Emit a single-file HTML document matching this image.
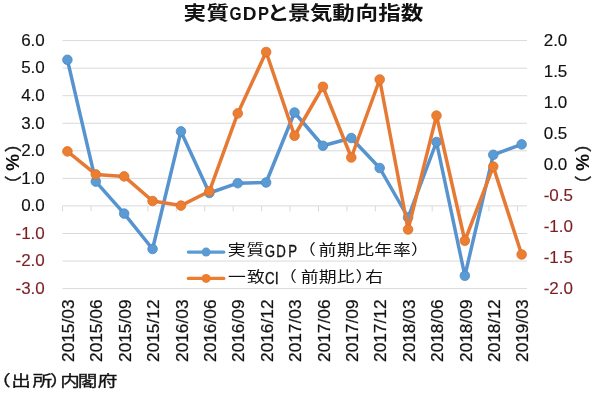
<!DOCTYPE html>
<html><head><meta charset="utf-8"><title>実質GDPと景気動向指数</title>
<style>
html,body{margin:0;padding:0;background:#fff;}
body{width:600px;height:400px;overflow:hidden;}
svg{display:block;will-change:transform;}
.ax{font-family:"Liberation Sans",sans-serif;font-size:17px;stroke-width:0.15px;}
.cat{font-family:"Liberation Sans",sans-serif;font-size:17.3px;fill:#111;stroke:#111;stroke-width:0.25px;}
</style></head><body>
<svg width="600" height="400" viewBox="0 0 600 400">
<line x1="62.5" y1="40.60" x2="527.0" y2="40.60" stroke="#d9d9d9" stroke-width="1"/>
<line x1="62.5" y1="68.16" x2="527.0" y2="68.16" stroke="#d9d9d9" stroke-width="1"/>
<line x1="62.5" y1="95.71" x2="527.0" y2="95.71" stroke="#d9d9d9" stroke-width="1"/>
<line x1="62.5" y1="123.27" x2="527.0" y2="123.27" stroke="#d9d9d9" stroke-width="1"/>
<line x1="62.5" y1="150.82" x2="527.0" y2="150.82" stroke="#d9d9d9" stroke-width="1"/>
<line x1="62.5" y1="178.38" x2="527.0" y2="178.38" stroke="#d9d9d9" stroke-width="1"/>
<line x1="62.5" y1="233.49" x2="527.0" y2="233.49" stroke="#d9d9d9" stroke-width="1"/>
<line x1="62.5" y1="261.05" x2="527.0" y2="261.05" stroke="#d9d9d9" stroke-width="1"/>
<line x1="62.5" y1="288.60" x2="527.0" y2="288.60" stroke="#d9d9d9" stroke-width="1"/>
<line x1="62.5" y1="205.9" x2="527.0" y2="205.9" stroke="#d9d9d9" stroke-width="1"/>
<line x1="62.60" y1="205.9" x2="62.60" y2="211.4" stroke="#d9d9d9" stroke-width="1"/>
<line x1="91.03" y1="205.9" x2="91.03" y2="211.4" stroke="#d9d9d9" stroke-width="1"/>
<line x1="119.46" y1="205.9" x2="119.46" y2="211.4" stroke="#d9d9d9" stroke-width="1"/>
<line x1="147.89" y1="205.9" x2="147.89" y2="211.4" stroke="#d9d9d9" stroke-width="1"/>
<line x1="176.32" y1="205.9" x2="176.32" y2="211.4" stroke="#d9d9d9" stroke-width="1"/>
<line x1="204.75" y1="205.9" x2="204.75" y2="211.4" stroke="#d9d9d9" stroke-width="1"/>
<line x1="233.18" y1="205.9" x2="233.18" y2="211.4" stroke="#d9d9d9" stroke-width="1"/>
<line x1="261.61" y1="205.9" x2="261.61" y2="211.4" stroke="#d9d9d9" stroke-width="1"/>
<line x1="290.04" y1="205.9" x2="290.04" y2="211.4" stroke="#d9d9d9" stroke-width="1"/>
<line x1="318.47" y1="205.9" x2="318.47" y2="211.4" stroke="#d9d9d9" stroke-width="1"/>
<line x1="346.90" y1="205.9" x2="346.90" y2="211.4" stroke="#d9d9d9" stroke-width="1"/>
<line x1="375.33" y1="205.9" x2="375.33" y2="211.4" stroke="#d9d9d9" stroke-width="1"/>
<line x1="403.76" y1="205.9" x2="403.76" y2="211.4" stroke="#d9d9d9" stroke-width="1"/>
<line x1="432.19" y1="205.9" x2="432.19" y2="211.4" stroke="#d9d9d9" stroke-width="1"/>
<line x1="460.62" y1="205.9" x2="460.62" y2="211.4" stroke="#d9d9d9" stroke-width="1"/>
<line x1="489.05" y1="205.9" x2="489.05" y2="211.4" stroke="#d9d9d9" stroke-width="1"/>
<line x1="517.48" y1="205.9" x2="517.48" y2="211.4" stroke="#d9d9d9" stroke-width="1"/>
<text x="44.8" y="45.90" text-anchor="end" class="ax" fill="#111" stroke="#111">6.0</text>
<text x="44.8" y="73.46" text-anchor="end" class="ax" fill="#111" stroke="#111">5.0</text>
<text x="44.8" y="101.01" text-anchor="end" class="ax" fill="#111" stroke="#111">4.0</text>
<text x="44.8" y="128.57" text-anchor="end" class="ax" fill="#111" stroke="#111">3.0</text>
<text x="44.8" y="156.12" text-anchor="end" class="ax" fill="#111" stroke="#111">2.0</text>
<text x="44.8" y="183.68" text-anchor="end" class="ax" fill="#111" stroke="#111">1.0</text>
<text x="44.8" y="211.24" text-anchor="end" class="ax" fill="#111" stroke="#111">0.0</text>
<text x="44.8" y="238.79" text-anchor="end" class="ax" fill="#7d1e23" stroke="#7d1e23">-1.0</text>
<text x="44.8" y="266.35" text-anchor="end" class="ax" fill="#7d1e23" stroke="#7d1e23">-2.0</text>
<text x="44.8" y="293.90" text-anchor="end" class="ax" fill="#7d1e23" stroke="#7d1e23">-3.0</text>
<text x="543.7" y="46.00" class="ax" fill="#111" stroke="#111">2.0</text>
<text x="543.7" y="77.00" class="ax" fill="#111" stroke="#111">1.5</text>
<text x="543.7" y="108.00" class="ax" fill="#111" stroke="#111">1.0</text>
<text x="543.7" y="139.00" class="ax" fill="#111" stroke="#111">0.5</text>
<text x="543.7" y="170.00" class="ax" fill="#111" stroke="#111">0.0</text>
<text x="543.7" y="201.00" class="ax" fill="#7d1e23" stroke="#7d1e23">-0.5</text>
<text x="543.7" y="232.00" class="ax" fill="#7d1e23" stroke="#7d1e23">-1.0</text>
<text x="543.7" y="263.00" class="ax" fill="#7d1e23" stroke="#7d1e23">-1.5</text>
<text x="543.7" y="294.00" class="ax" fill="#7d1e23" stroke="#7d1e23">-2.0</text>
<text transform="translate(74.10,299.5) rotate(-90)" text-anchor="end" class="cat">2015/03</text>
<text transform="translate(102.49,299.5) rotate(-90)" text-anchor="end" class="cat">2015/06</text>
<text transform="translate(130.88,299.5) rotate(-90)" text-anchor="end" class="cat">2015/09</text>
<text transform="translate(159.27,299.5) rotate(-90)" text-anchor="end" class="cat">2015/12</text>
<text transform="translate(187.66,299.5) rotate(-90)" text-anchor="end" class="cat">2016/03</text>
<text transform="translate(216.05,299.5) rotate(-90)" text-anchor="end" class="cat">2016/06</text>
<text transform="translate(244.44,299.5) rotate(-90)" text-anchor="end" class="cat">2016/09</text>
<text transform="translate(272.83,299.5) rotate(-90)" text-anchor="end" class="cat">2016/12</text>
<text transform="translate(301.22,299.5) rotate(-90)" text-anchor="end" class="cat">2017/03</text>
<text transform="translate(329.61,299.5) rotate(-90)" text-anchor="end" class="cat">2017/06</text>
<text transform="translate(358.00,299.5) rotate(-90)" text-anchor="end" class="cat">2017/09</text>
<text transform="translate(386.39,299.5) rotate(-90)" text-anchor="end" class="cat">2017/12</text>
<text transform="translate(414.78,299.5) rotate(-90)" text-anchor="end" class="cat">2018/03</text>
<text transform="translate(443.17,299.5) rotate(-90)" text-anchor="end" class="cat">2018/06</text>
<text transform="translate(471.56,299.5) rotate(-90)" text-anchor="end" class="cat">2018/09</text>
<text transform="translate(499.95,299.5) rotate(-90)" text-anchor="end" class="cat">2018/12</text>
<text transform="translate(528.34,299.5) rotate(-90)" text-anchor="end" class="cat">2019/03</text>
<polyline points="67.40,59.80 95.79,181.60 124.18,213.60 152.57,249.00 180.96,131.40 209.35,193.00 237.74,183.20 266.13,182.50 294.52,112.50 322.91,145.75 351.30,138.00 379.69,168.00 408.08,217.50 436.47,142.00 464.86,275.75 493.25,154.80 521.64,144.40" fill="none" stroke="#5794cf" stroke-width="3.5" stroke-linejoin="round" stroke-linecap="round"/>
<circle cx="67.40" cy="59.80" r="4.8" fill="#5b9bd5" stroke="#4f89c2" stroke-width="0.8"/>
<circle cx="95.79" cy="181.60" r="4.8" fill="#5b9bd5" stroke="#4f89c2" stroke-width="0.8"/>
<circle cx="124.18" cy="213.60" r="4.8" fill="#5b9bd5" stroke="#4f89c2" stroke-width="0.8"/>
<circle cx="152.57" cy="249.00" r="4.8" fill="#5b9bd5" stroke="#4f89c2" stroke-width="0.8"/>
<circle cx="180.96" cy="131.40" r="4.8" fill="#5b9bd5" stroke="#4f89c2" stroke-width="0.8"/>
<circle cx="209.35" cy="193.00" r="4.8" fill="#5b9bd5" stroke="#4f89c2" stroke-width="0.8"/>
<circle cx="237.74" cy="183.20" r="4.8" fill="#5b9bd5" stroke="#4f89c2" stroke-width="0.8"/>
<circle cx="266.13" cy="182.50" r="4.8" fill="#5b9bd5" stroke="#4f89c2" stroke-width="0.8"/>
<circle cx="294.52" cy="112.50" r="4.8" fill="#5b9bd5" stroke="#4f89c2" stroke-width="0.8"/>
<circle cx="322.91" cy="145.75" r="4.8" fill="#5b9bd5" stroke="#4f89c2" stroke-width="0.8"/>
<circle cx="351.30" cy="138.00" r="4.8" fill="#5b9bd5" stroke="#4f89c2" stroke-width="0.8"/>
<circle cx="379.69" cy="168.00" r="4.8" fill="#5b9bd5" stroke="#4f89c2" stroke-width="0.8"/>
<circle cx="408.08" cy="217.50" r="4.8" fill="#5b9bd5" stroke="#4f89c2" stroke-width="0.8"/>
<circle cx="436.47" cy="142.00" r="4.8" fill="#5b9bd5" stroke="#4f89c2" stroke-width="0.8"/>
<circle cx="464.86" cy="275.75" r="4.8" fill="#5b9bd5" stroke="#4f89c2" stroke-width="0.8"/>
<circle cx="493.25" cy="154.80" r="4.8" fill="#5b9bd5" stroke="#4f89c2" stroke-width="0.8"/>
<circle cx="521.64" cy="144.40" r="4.8" fill="#5b9bd5" stroke="#4f89c2" stroke-width="0.8"/>
<polyline points="67.40,151.40 95.79,174.40 124.18,176.40 152.57,201.00 180.96,205.60 209.35,191.30 237.74,113.40 266.13,52.00 294.52,135.75 322.91,86.75 351.30,157.50 379.69,79.50 408.08,229.50 436.47,115.60 464.86,240.75 493.25,166.60 521.64,254.50" fill="none" stroke="#e67a35" stroke-width="3.5" stroke-linejoin="round" stroke-linecap="round"/>
<circle cx="67.40" cy="151.40" r="4.8" fill="#ed7d31" stroke="#d8712c" stroke-width="0.8"/>
<circle cx="95.79" cy="174.40" r="4.8" fill="#ed7d31" stroke="#d8712c" stroke-width="0.8"/>
<circle cx="124.18" cy="176.40" r="4.8" fill="#ed7d31" stroke="#d8712c" stroke-width="0.8"/>
<circle cx="152.57" cy="201.00" r="4.8" fill="#ed7d31" stroke="#d8712c" stroke-width="0.8"/>
<circle cx="180.96" cy="205.60" r="4.8" fill="#ed7d31" stroke="#d8712c" stroke-width="0.8"/>
<circle cx="209.35" cy="191.30" r="4.8" fill="#ed7d31" stroke="#d8712c" stroke-width="0.8"/>
<circle cx="237.74" cy="113.40" r="4.8" fill="#ed7d31" stroke="#d8712c" stroke-width="0.8"/>
<circle cx="266.13" cy="52.00" r="4.8" fill="#ed7d31" stroke="#d8712c" stroke-width="0.8"/>
<circle cx="294.52" cy="135.75" r="4.8" fill="#ed7d31" stroke="#d8712c" stroke-width="0.8"/>
<circle cx="322.91" cy="86.75" r="4.8" fill="#ed7d31" stroke="#d8712c" stroke-width="0.8"/>
<circle cx="351.30" cy="157.50" r="4.8" fill="#ed7d31" stroke="#d8712c" stroke-width="0.8"/>
<circle cx="379.69" cy="79.50" r="4.8" fill="#ed7d31" stroke="#d8712c" stroke-width="0.8"/>
<circle cx="408.08" cy="229.50" r="4.8" fill="#ed7d31" stroke="#d8712c" stroke-width="0.8"/>
<circle cx="436.47" cy="115.60" r="4.8" fill="#ed7d31" stroke="#d8712c" stroke-width="0.8"/>
<circle cx="464.86" cy="240.75" r="4.8" fill="#ed7d31" stroke="#d8712c" stroke-width="0.8"/>
<circle cx="493.25" cy="166.60" r="4.8" fill="#ed7d31" stroke="#d8712c" stroke-width="0.8"/>
<circle cx="521.64" cy="254.50" r="4.8" fill="#ed7d31" stroke="#d8712c" stroke-width="0.8"/>
<line x1="188.3" y1="252.1" x2="223.9" y2="252.1" stroke="#5b9bd5" stroke-width="3.1" stroke-linecap="round"/>
<circle cx="206.1" cy="252.1" r="4.5" fill="#5b9bd5"/>
<line x1="188.3" y1="278.4" x2="223.9" y2="278.4" stroke="#ed7d31" stroke-width="3.1" stroke-linecap="round"/>
<circle cx="206.1" cy="278.4" r="4.5" fill="#ed7d31"/>
<text transform="translate(183.50,20.40) scale(1.0,0.86)" font-family="'Liberation Sans','Noto Sans CJK JP',sans-serif" font-size="22.5" font-weight="bold" fill="#111" stroke="#111" stroke-width="0">実</text>
<text transform="translate(206.50,20.40) scale(1.0,0.86)" font-family="'Liberation Sans','Noto Sans CJK JP',sans-serif" font-size="22.5" font-weight="bold" fill="#111" stroke="#111" stroke-width="0">質</text>
<text transform="translate(229.58,20.40) scale(0.82,1)" font-family="'Liberation Sans',sans-serif" font-size="19" font-weight="bold" fill="#111" stroke="#111" stroke-width="0">G</text>
<text transform="translate(242.75,20.40) scale(1,1)" font-family="'Liberation Sans',sans-serif" font-size="19" font-weight="bold" fill="#111" stroke="#111" stroke-width="0">D</text>
<text transform="translate(257.88,20.40) scale(0.87,1)" font-family="'Liberation Sans',sans-serif" font-size="19" font-weight="bold" fill="#111" stroke="#111" stroke-width="0">P</text>
<text transform="translate(267.00,20.40) scale(1.0,0.86)" font-family="'Liberation Sans','Noto Sans CJK JP',sans-serif" font-size="22.5" font-weight="bold" fill="#111" stroke="#111" stroke-width="0">と</text>
<text transform="translate(288.00,20.40) scale(1.0,0.86)" font-family="'Liberation Sans','Noto Sans CJK JP',sans-serif" font-size="22.5" font-weight="bold" fill="#111" stroke="#111" stroke-width="0">景</text>
<text transform="translate(310.00,20.40) scale(1.0,0.86)" font-family="'Liberation Sans','Noto Sans CJK JP',sans-serif" font-size="22.5" font-weight="bold" fill="#111" stroke="#111" stroke-width="0">気</text>
<text transform="translate(332.30,20.40) scale(1.0,0.86)" font-family="'Liberation Sans','Noto Sans CJK JP',sans-serif" font-size="22.5" font-weight="bold" fill="#111" stroke="#111" stroke-width="0">動</text>
<text transform="translate(355.50,20.40) scale(1.0,0.86)" font-family="'Liberation Sans','Noto Sans CJK JP',sans-serif" font-size="22.5" font-weight="bold" fill="#111" stroke="#111" stroke-width="0">向</text>
<text transform="translate(378.20,20.40) scale(1.0,0.86)" font-family="'Liberation Sans','Noto Sans CJK JP',sans-serif" font-size="22.5" font-weight="bold" fill="#111" stroke="#111" stroke-width="0">指</text>
<text transform="translate(400.70,20.40) scale(1.0,0.86)" font-family="'Liberation Sans','Noto Sans CJK JP',sans-serif" font-size="22.5" font-weight="bold" fill="#111" stroke="#111" stroke-width="0">数</text>
<text transform="translate(227.65,255.30) scale(1.05,0.87)" font-family="'Liberation Sans','Noto Sans CJK JP',sans-serif" font-size="17" font-weight="normal" fill="#111" stroke="#111" stroke-width="0">実</text>
<text transform="translate(246.45,255.30) scale(1.05,0.87)" font-family="'Liberation Sans','Noto Sans CJK JP',sans-serif" font-size="17" font-weight="normal" fill="#111" stroke="#111" stroke-width="0">質</text>
<text transform="translate(264.87,256.80) scale(0.83,1)" font-family="'Liberation Sans',sans-serif" font-size="16" font-weight="normal" fill="#111" stroke="#111" stroke-width="0.3">G</text>
<text transform="translate(276.32,256.80) scale(0.83,1)" font-family="'Liberation Sans',sans-serif" font-size="16" font-weight="normal" fill="#111" stroke="#111" stroke-width="0.3">D</text>
<text transform="translate(288.32,256.80) scale(0.83,1)" font-family="'Liberation Sans',sans-serif" font-size="16" font-weight="normal" fill="#111" stroke="#111" stroke-width="0.3">P</text>
<text transform="translate(297.90,255.30) scale(1.05,0.87)" font-family="'Liberation Sans','Noto Sans CJK JP',sans-serif" font-size="17" font-weight="normal" fill="#111" stroke="#111" stroke-width="0">（</text>
<text transform="translate(318.45,255.30) scale(1.05,0.87)" font-family="'Liberation Sans','Noto Sans CJK JP',sans-serif" font-size="17" font-weight="normal" fill="#111" stroke="#111" stroke-width="0">前</text>
<text transform="translate(336.95,255.30) scale(1.05,0.87)" font-family="'Liberation Sans','Noto Sans CJK JP',sans-serif" font-size="17" font-weight="normal" fill="#111" stroke="#111" stroke-width="0">期</text>
<text transform="translate(356.25,255.30) scale(1.05,0.87)" font-family="'Liberation Sans','Noto Sans CJK JP',sans-serif" font-size="17" font-weight="normal" fill="#111" stroke="#111" stroke-width="0">比</text>
<text transform="translate(374.25,255.30) scale(1.05,0.87)" font-family="'Liberation Sans','Noto Sans CJK JP',sans-serif" font-size="17" font-weight="normal" fill="#111" stroke="#111" stroke-width="0">年</text>
<text transform="translate(392.95,255.30) scale(1.05,0.87)" font-family="'Liberation Sans','Noto Sans CJK JP',sans-serif" font-size="17" font-weight="normal" fill="#111" stroke="#111" stroke-width="0">率</text>
<text transform="translate(410.95,255.30) scale(1.05,0.87)" font-family="'Liberation Sans','Noto Sans CJK JP',sans-serif" font-size="17" font-weight="normal" fill="#111" stroke="#111" stroke-width="0">）</text>
<text transform="translate(227.95,282.00) scale(1.05,0.87)" font-family="'Liberation Sans','Noto Sans CJK JP',sans-serif" font-size="17" font-weight="normal" fill="#111" stroke="#111" stroke-width="0">一</text>
<text transform="translate(246.95,282.00) scale(1.05,0.87)" font-family="'Liberation Sans','Noto Sans CJK JP',sans-serif" font-size="17" font-weight="normal" fill="#111" stroke="#111" stroke-width="0">致</text>
<text transform="translate(264.97,283.90) scale(0.83,1)" font-family="'Liberation Sans',sans-serif" font-size="16" font-weight="normal" fill="#111" stroke="#111" stroke-width="0.3">C</text>
<text transform="translate(274.83,283.90) scale(0.9,1)" font-family="'Liberation Sans',sans-serif" font-size="16" font-weight="normal" fill="#111" stroke="#111" stroke-width="0.3">I</text>
<text transform="translate(279.10,282.00) scale(1.05,0.87)" font-family="'Liberation Sans','Noto Sans CJK JP',sans-serif" font-size="17" font-weight="normal" fill="#111" stroke="#111" stroke-width="0">（</text>
<text transform="translate(300.65,282.00) scale(1.05,0.87)" font-family="'Liberation Sans','Noto Sans CJK JP',sans-serif" font-size="17" font-weight="normal" fill="#111" stroke="#111" stroke-width="0">前</text>
<text transform="translate(318.65,282.00) scale(1.05,0.87)" font-family="'Liberation Sans','Noto Sans CJK JP',sans-serif" font-size="17" font-weight="normal" fill="#111" stroke="#111" stroke-width="0">期</text>
<text transform="translate(336.65,282.00) scale(1.05,0.87)" font-family="'Liberation Sans','Noto Sans CJK JP',sans-serif" font-size="17" font-weight="normal" fill="#111" stroke="#111" stroke-width="0">比</text>
<text transform="translate(355.45,282.00) scale(1.05,0.87)" font-family="'Liberation Sans','Noto Sans CJK JP',sans-serif" font-size="17" font-weight="normal" fill="#111" stroke="#111" stroke-width="0">）</text>
<text transform="translate(365.15,282.00) scale(1.05,0.87)" font-family="'Liberation Sans','Noto Sans CJK JP',sans-serif" font-size="17" font-weight="normal" fill="#111" stroke="#111" stroke-width="0">右</text>
<text transform="translate(-8.94,386.00) scale(1.12,0.86)" font-family="'Liberation Sans','Noto Sans CJK JP',sans-serif" font-size="17.5" font-weight="normal" fill="#111" stroke="#111" stroke-width="0.35">（</text>
<text transform="translate(11.26,386.00) scale(1.12,0.86)" font-family="'Liberation Sans','Noto Sans CJK JP',sans-serif" font-size="17.5" font-weight="normal" fill="#111" stroke="#111" stroke-width="0.35">出</text>
<text transform="translate(32.38,386.00) scale(1.12,0.86)" font-family="'Liberation Sans','Noto Sans CJK JP',sans-serif" font-size="17.5" font-weight="normal" fill="#111" stroke="#111" stroke-width="0.35">所</text>
<text transform="translate(49.88,386.00) scale(1.12,0.86)" font-family="'Liberation Sans','Noto Sans CJK JP',sans-serif" font-size="17.5" font-weight="normal" fill="#111" stroke="#111" stroke-width="0.35">）</text>
<text transform="translate(60.36,386.00) scale(1.12,0.86)" font-family="'Liberation Sans','Noto Sans CJK JP',sans-serif" font-size="17.5" font-weight="normal" fill="#111" stroke="#111" stroke-width="0.35">内</text>
<text transform="translate(77.86,386.00) scale(1.12,0.86)" font-family="'Liberation Sans','Noto Sans CJK JP',sans-serif" font-size="17.5" font-weight="normal" fill="#111" stroke="#111" stroke-width="0.35">閣</text>
<text transform="translate(97.63,386.00) scale(1.12,0.86)" font-family="'Liberation Sans','Noto Sans CJK JP',sans-serif" font-size="17.5" font-weight="normal" fill="#111" stroke="#111" stroke-width="0.35">府</text>
<text transform="translate(5.50,135.3) rotate(90)" font-family="'Liberation Sans','Noto Sans CJK JP',sans-serif" font-size="17" fill="#111" stroke="#111" stroke-width="0.4">（</text>
<text transform="translate(6.30,154) rotate(90)" font-family="'Liberation Sans',sans-serif" font-size="19" font-weight="bold" fill="#111">%</text>
<text transform="translate(5.50,175.5) rotate(90)" font-family="'Liberation Sans','Noto Sans CJK JP',sans-serif" font-size="17" fill="#111" stroke="#111" stroke-width="0.4">）</text>
<text transform="translate(575.50,135.3) rotate(90)" font-family="'Liberation Sans','Noto Sans CJK JP',sans-serif" font-size="17" fill="#111" stroke="#111" stroke-width="0.4">（</text>
<text transform="translate(576.30,154) rotate(90)" font-family="'Liberation Sans',sans-serif" font-size="19" font-weight="bold" fill="#111">%</text>
<text transform="translate(575.50,175.5) rotate(90)" font-family="'Liberation Sans','Noto Sans CJK JP',sans-serif" font-size="17" fill="#111" stroke="#111" stroke-width="0.4">）</text>
</svg>
</body></html>
